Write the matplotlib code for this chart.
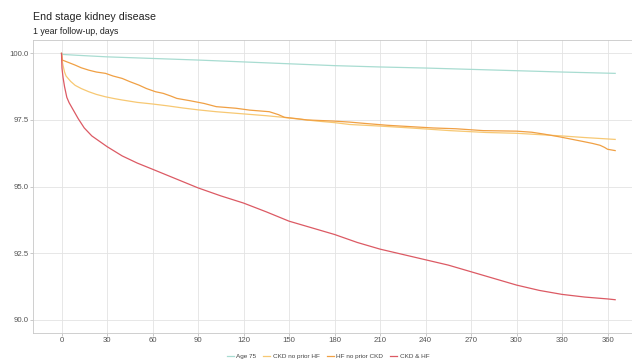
import matplotlib
matplotlib.use("Agg")
import matplotlib.pyplot as plt

plt.rcParams['font.family'] = ['Liberation Sans', 'DejaVu Sans']

# ---- data ----
age75_days = [0, 1, 10, 30, 60, 90, 120, 150, 180, 210, 240, 270, 300, 330, 365]
age75_vals = [100, 99.96, 99.93, 99.87, 99.81, 99.75, 99.68, 99.61, 99.54, 99.49,
              99.45, 99.40, 99.35, 99.30, 99.25]

ckd_days = [0, 0.5, 1, 2, 3, 4.5, 6, 9, 13, 18, 23, 29, 35, 40, 50, 60, 70, 80, 90,
            102, 113, 124, 135, 146, 157, 168, 180, 190, 210, 230, 256, 280, 300,
            315, 330, 345, 365]
ckd_vals = [100, 99.70, 99.55, 99.30, 99.15, 99.05, 98.95, 98.80, 98.68, 98.56, 98.46,
            98.37, 98.30, 98.25, 98.16, 98.10, 98.03, 97.95, 97.88, 97.81, 97.76, 97.71,
            97.66, 97.60, 97.53, 97.46, 97.40, 97.33, 97.27, 97.20, 97.10, 97.03, 97.00,
            96.95, 96.90, 96.84, 96.77]

hf_days = [0, 0.5, 5, 9, 13, 18, 23, 29, 34, 40, 45, 51, 56, 62, 67, 72, 76, 85, 94,
           102, 115, 124, 137, 143, 147, 155, 162, 179, 190, 200, 215, 230, 245, 260,
           278, 300, 310, 318, 328, 336, 344, 350, 355, 358, 360, 365]
hf_vals = [100, 99.75, 99.65, 99.56, 99.46, 99.37, 99.30, 99.25, 99.15, 99.06, 98.94,
           98.81, 98.68, 98.56, 98.50, 98.40, 98.31, 98.22, 98.12, 98.00, 97.94, 97.87,
           97.81, 97.70, 97.60, 97.55, 97.50, 97.46, 97.42, 97.37, 97.30, 97.25, 97.20,
           97.17, 97.10, 97.08, 97.04, 96.97, 96.87, 96.78, 96.69, 96.62, 96.55, 96.47,
           96.40, 96.35]

ckdhf_days = [0, 0.3, 1, 2, 3.5, 5, 8, 11, 15, 20, 25, 30, 40, 50, 60, 75, 90, 105,
              120, 135, 150, 165, 180, 195, 210, 225, 240, 255, 270, 285, 300, 315,
              330, 345, 360, 365]
ckdhf_vals = [100, 99.45, 99.10, 98.75, 98.35, 98.15, 97.85, 97.55, 97.20, 96.90, 96.70,
              96.50, 96.15, 95.88, 95.65, 95.30, 94.95, 94.65, 94.38, 94.05, 93.70, 93.45,
              93.20, 92.90, 92.65, 92.45, 92.25, 92.05, 91.80, 91.55, 91.30, 91.10, 90.95,
              90.85, 90.78, 90.75]

series_names = ["Age 75", "CKD no prior HF", "HF no prior CKD", "CKD & HF"]
series_colors = ["#a8dcd1", "#f7c873", "#f0a044", "#dc5a64"]

x_ticks = list(range(0, 361, 30))
y_ticks = [90.0, 92.5, 95.0, 97.5, 100.0]

# ---- figure ----
fig = plt.figure(figsize=(6.32, 3.63), dpi=100)
ax = fig.add_axes([0.0522, 0.0826, 0.9478, 0.807])

data = [(age75_days, age75_vals), (ckd_days, ckd_vals),
        (hf_days, hf_vals), (ckdhf_days, ckdhf_vals)]
for (d, v), name, col in zip(data, series_names, series_colors):
    ax.plot(d, v, color=col, lw=0.9, label=name, solid_joinstyle='round')

ax.set_xlim(-18.8, 376.1)
ax.set_ylim(89.5, 100.5)
ax.set_xticks(x_ticks)
ax.set_yticks(y_ticks)
ax.set_yticklabels([f"{t:.1f}" for t in y_ticks])

ax.grid(True, color="#e3e3e3", lw=0.6)
ax.set_axisbelow(True)
for s in ['left', 'top', 'bottom']:
    ax.spines[s].set_color('#c8c8c8')
    ax.spines[s].set_linewidth(0.6)
ax.spines['right'].set_visible(False)
ax.tick_params(axis='both', length=2.0, width=0.5, color='#b3b3b3',
               labelsize=5.6, labelcolor='#555555', pad=1.2)

fig.text(33 / 632, 1 - 17 / 363, "End stage kidney disease", fontsize=7.7,
         color='#222222', va='center', ha='left')
fig.text(33 / 632, 1 - 31 / 363, "1 year follow-up, days", fontsize=6.3,
         color='#222222', va='center', ha='left')

fig.legend(loc='center', bbox_to_anchor=(328 / 632, 1 - 356 / 363), ncol=4,
           frameon=False, fontsize=4.6, handlelength=1.1, handletextpad=0.4,
           columnspacing=1.1, labelcolor='#444444')

fig.savefig("out.png", dpi=100)
